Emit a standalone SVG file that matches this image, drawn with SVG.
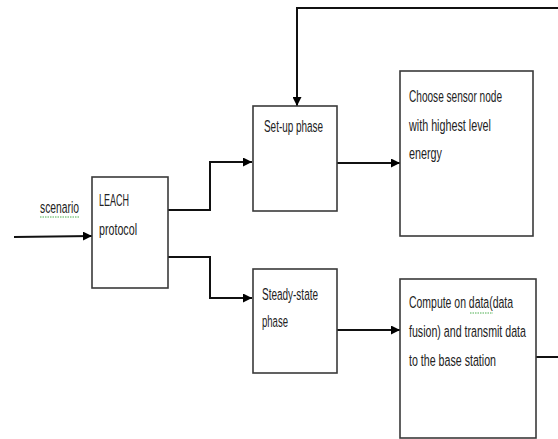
<svg xmlns="http://www.w3.org/2000/svg" width="558" height="439" viewBox="0 0 558 439">
<style>
.box{fill:#fff;stroke:#3a3a3a;stroke-width:1.6}
.t{font-family:"Liberation Sans",Arial,sans-serif;font-size:17px;fill:#222}
.c{fill:none;stroke:#111;stroke-width:2}
.sp{fill:none;stroke:#4caf50;stroke-width:1;stroke-dasharray:1.5 1}
</style>
<defs>
<marker id="ah" viewBox="0 0 10 10" refX="10" refY="5" markerWidth="9" markerHeight="9" markerUnits="userSpaceOnUse" orient="auto">
<path d="M0,0 L10,5 L0,10 z" fill="#000"/>
</marker>
</defs>
<rect width="558" height="439" fill="#fff"/>
<g id="connectors">
<path class="c" d="M14,237 L92,236" marker-end="url(#ah)"/>
<path class="c" d="M168,210 H210 V162 H252" marker-end="url(#ah)"/>
<path class="c" d="M168,257 H210 V298 H252" marker-end="url(#ah)"/>
<path class="c" d="M337,163 H400" marker-end="url(#ah)"/>
<path class="c" d="M337,330 H400" marker-end="url(#ah)"/>
<path class="c" d="M558,8 H297 V106" marker-end="url(#ah)"/>
<path class="c" d="M535,357 H558"/>
</g>
<g id="scenario-label">
<text class="t" transform="translate(40,213) scale(0.7,1)" textLength="55.7" lengthAdjust="spacingAndGlyphs">scenario</text>
<path class="sp" d="M40,217 H80"/>
</g>
<g id="leach">
<rect class="box" x="92" y="177" width="76" height="111"/>
<text class="t" transform="translate(99,206) scale(0.7,1)" textLength="42.9" lengthAdjust="spacingAndGlyphs">LEACH</text>
<text class="t" transform="translate(99,235) scale(0.7,1)" textLength="54.3" lengthAdjust="spacingAndGlyphs">protocol</text>
</g>
<g id="setup">
<rect class="box" x="253" y="106" width="84" height="105"/>
<text class="t" transform="translate(264,132) scale(0.7,1)" textLength="84.3" lengthAdjust="spacingAndGlyphs">Set-up phase</text>
</g>
<g id="choose">
<rect class="box" x="400" y="71" width="133" height="165"/>
<text class="t" transform="translate(409,102) scale(0.7,1)" textLength="132.9" lengthAdjust="spacingAndGlyphs">Choose sensor node</text>
<text class="t" transform="translate(409,131) scale(0.7,1)" textLength="117.1" lengthAdjust="spacingAndGlyphs">with highest level</text>
<text class="t" transform="translate(409,159) scale(0.7,1)" textLength="47.1" lengthAdjust="spacingAndGlyphs">energy</text>
</g>
<g id="steady">
<rect class="box" x="253" y="269" width="84" height="104"/>
<text class="t" transform="translate(262,300) scale(0.7,1)" textLength="80" lengthAdjust="spacingAndGlyphs">Steady-state</text>
<text class="t" transform="translate(262,327) scale(0.7,1)" textLength="37.1" lengthAdjust="spacingAndGlyphs">phase</text>
</g>
<g id="compute">
<rect class="box" x="400" y="279" width="136" height="159"/>
<text class="t" transform="translate(409,308) scale(0.7,1)" textLength="148.6" lengthAdjust="spacingAndGlyphs">Compute on data(data</text>
<path class="sp" d="M470,313 H493"/>
<text class="t" transform="translate(409,337) scale(0.7,1)" textLength="167.1" lengthAdjust="spacingAndGlyphs">fusion) and transmit data</text>
<text class="t" transform="translate(409,366) scale(0.7,1)" textLength="124.3" lengthAdjust="spacingAndGlyphs">to the base station</text>
</g>
</svg>
